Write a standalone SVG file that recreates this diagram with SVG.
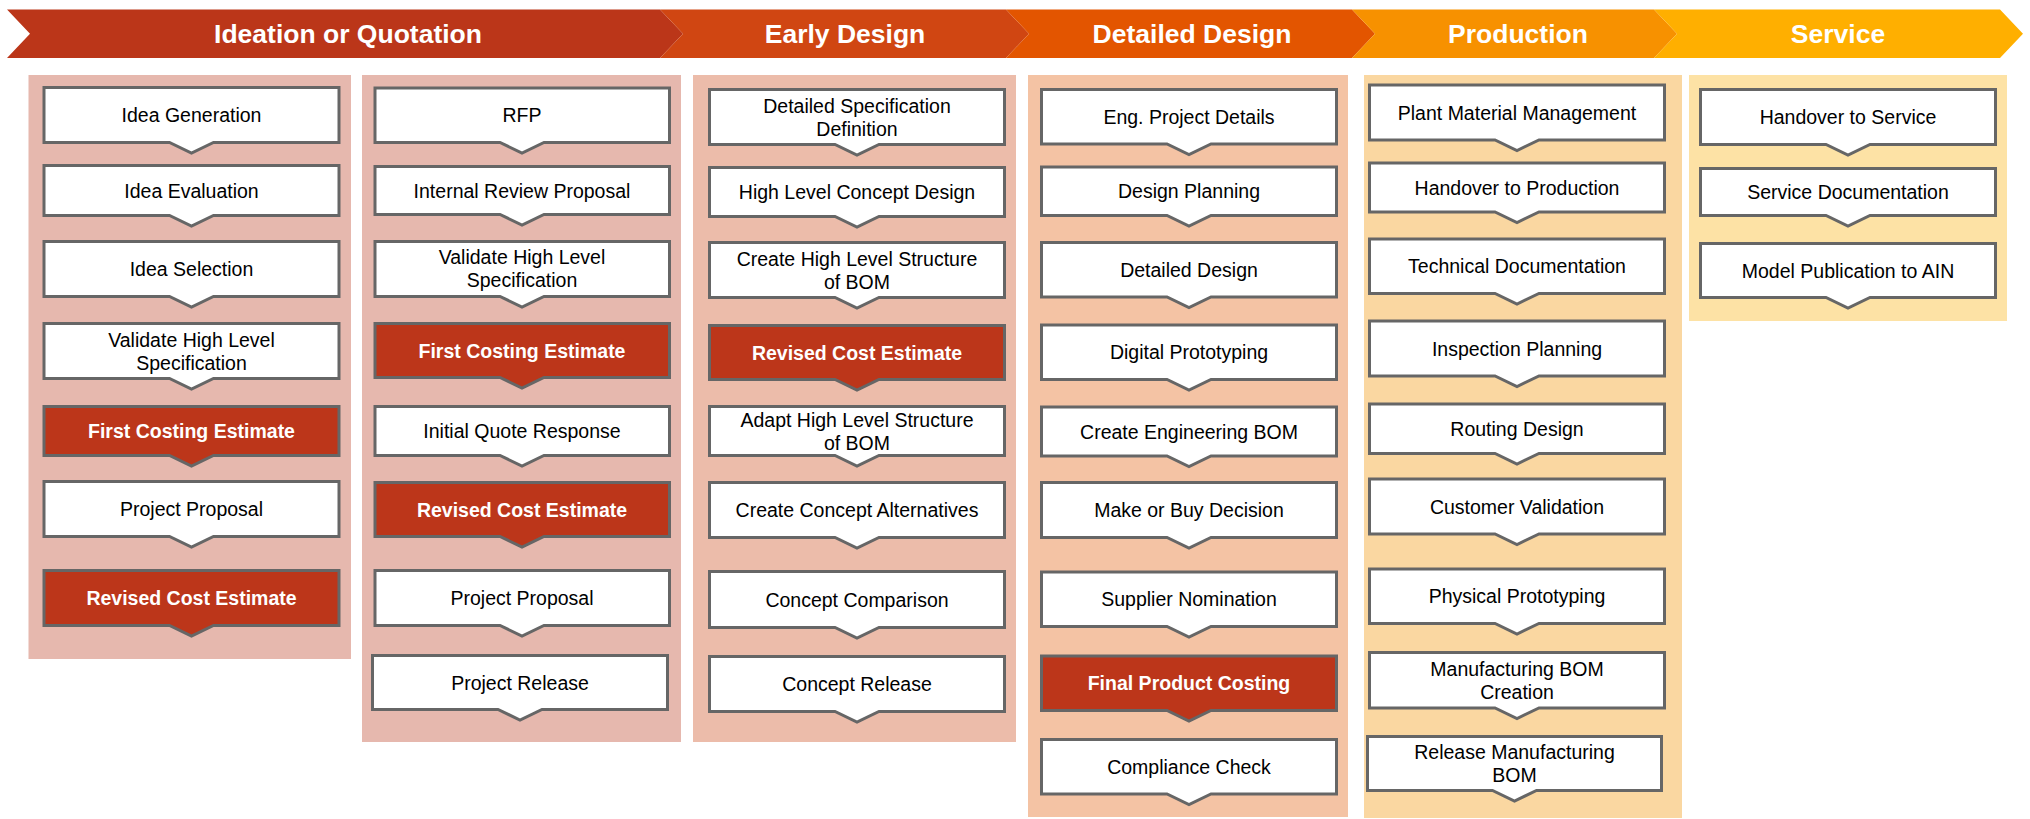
<svg xmlns="http://www.w3.org/2000/svg" width="2030" height="819" viewBox="0 0 2030 819">
<style>
.hdr{font-family:"Liberation Sans",Arial,sans-serif;font-size:26.5px;font-weight:bold;fill:#fff;text-anchor:middle}
.box{fill:#fff;stroke:#666;stroke-width:3;stroke-linejoin:miter}
.red{fill:#BC361A;stroke:#666;stroke-width:3}
.t{font-family:"Liberation Sans",Arial,sans-serif;font-size:19.5px;fill:#000;text-anchor:middle}
.tw{font-family:"Liberation Sans",Arial,sans-serif;font-size:19.5px;font-weight:bold;fill:#fff;text-anchor:middle}
</style>
<rect width="2030" height="819" fill="#fff"/>
<g id="ribbon">
<polygon points="7,9.5 660,9.5 683,33.75 660,58 7,58 30,33.75" fill="#BB3619"/>
<polygon points="660,9.5 1006,9.5 1029,33.75 1006,58 660,58 683,33.75" fill="#D04612"/>
<polygon points="1006,9.5 1352,9.5 1375,33.75 1352,58 1006,58 1029,33.75" fill="#E35500"/>
<polygon points="1352,9.5 1654,9.5 1677,33.75 1654,58 1352,58 1375,33.75" fill="#F79100"/>
<polygon points="1654,9.5 2000,9.5 2023,33.75 2000,58 1654,58 1677,33.75" fill="#FFAF00"/>
<text class="hdr" x="348" y="42.5">Ideation or Quotation</text>
<text class="hdr" x="845" y="42.5">Early Design</text>
<text class="hdr" x="1192" y="42.5">Detailed Design</text>
<text class="hdr" x="1518" y="42.5">Production</text>
<text class="hdr" x="1838" y="42.5">Service</text>
</g>
<g id="panels">
<rect x="28.5" y="75" width="322.5" height="584" fill="#E6B8AE"/>
<rect x="362" y="75" width="319" height="667" fill="#E6B8AE"/>
<rect x="693" y="75" width="323" height="667" fill="#ECBCAA"/>
<rect x="1028" y="75" width="320" height="742" fill="#F4C3A4"/>
<rect x="1364" y="75" width="318" height="743" fill="#FAD7A1"/>
<rect x="1689" y="75" width="318" height="246" fill="#FDE2A5"/>
</g>
<g id="connectors"></g>
<!-- Column 1 -->
<g id="c1n1"><path class="box" d="M44,87.5H339V142.5H213.5L191.5,153L169.5,142.5H44Z"/><text class="t" x="191.5" y="122">Idea Generation</text></g>
<g id="c1n2"><path class="box" d="M44,165.5H339V215.5H213.5L191.5,226L169.5,215.5H44Z"/><text class="t" x="191.5" y="197.5">Idea Evaluation</text></g>
<g id="c1n3"><path class="box" d="M44,241.5H339V296.5H213.5L191.5,307L169.5,296.5H44Z"/><text class="t" x="191.5" y="276">Idea Selection</text></g>
<g id="c1n4"><path class="box" d="M44,323.5H339V378.5H213.5L191.5,389L169.5,378.5H44Z"/><text class="t" x="191.5" y="346.5">Validate High Level</text><text class="t" x="191.5" y="369.5">Specification</text></g>
<g id="c1n5"><path class="red" d="M44,406.5H339V455.5H213.5L191.5,466L169.5,455.5H44Z"/><text class="tw" x="191.5" y="438">First Costing Estimate</text></g>
<g id="c1n6"><path class="box" d="M44,481.5H339V536.5H213.5L191.5,547L169.5,536.5H44Z"/><text class="t" x="191.5" y="516">Project Proposal</text></g>
<g id="c1n7"><path class="red" d="M44,570.5H339V625.5H213.5L191.5,636L169.5,625.5H44Z"/><text class="tw" x="191.5" y="605">Revised Cost Estimate</text></g>
<!-- Column 2 -->
<g id="c2n1"><path class="box" d="M375,88H669.5V142.5H544L522,153L500,142.5H375Z"/><text class="t" x="522" y="122">RFP</text></g>
<g id="c2n2"><path class="box" d="M375,166.5H669.5V214.5H544L522,225L500,214.5H375Z"/><text class="t" x="522" y="197.5">Internal Review Proposal</text></g>
<g id="c2n3"><path class="box" d="M375,241.5H669.5V296.5H544L522,307L500,296.5H375Z"/><text class="t" x="522" y="264">Validate High Level</text><text class="t" x="522" y="287">Specification</text></g>
<g id="c2n4"><path class="red" d="M375,323.5H669.5V377.5H544L522,388L500,377.5H375Z"/><text class="tw" x="522" y="357.5">First Costing Estimate</text></g>
<g id="c2n5"><path class="box" d="M375,406.5H669.5V455.5H544L522,466L500,455.5H375Z"/><text class="t" x="522" y="438">Initial Quote Response</text></g>
<g id="c2n6"><path class="red" d="M375,482.5H669.5V536.5H544L522,547L500,536.5H375Z"/><text class="tw" x="522" y="516.5">Revised Cost Estimate</text></g>
<g id="c2n7"><path class="box" d="M375,570.5H669.5V625.5H544L522,636L500,625.5H375Z"/><text class="t" x="522" y="605">Project Proposal</text></g>
<g id="c2n8"><path class="box" d="M372.5,655.5H667.5V709.5H542L520,720L498,709.5H372.5Z"/><text class="t" x="520" y="689.5">Project Release</text></g>
<!-- Column 3 -->
<g id="c3n1"><path class="box" d="M709.5,89.5H1004.5V144.5H879L857,155L835,144.5H709.5Z"/><text class="t" x="857" y="112.5">Detailed Specification</text><text class="t" x="857" y="135.5">Definition</text></g>
<g id="c3n2"><path class="box" d="M709.5,167.5H1004.5V216.5H879L857,227L835,216.5H709.5Z"/><text class="t" x="857" y="199">High Level Concept Design</text></g>
<g id="c3n3"><path class="box" d="M709.5,242.5H1004.5V297.5H879L857,308L835,297.5H709.5Z"/><text class="t" x="857" y="265.5">Create High Level Structure</text><text class="t" x="857" y="288.5">of BOM</text></g>
<g id="c3n4"><path class="red" d="M709.5,325.5H1004.5V379.5H879L857,390L835,379.5H709.5Z"/><text class="tw" x="857" y="359.5">Revised Cost Estimate</text></g>
<g id="c3n5"><path class="box" d="M709.5,406.5H1004.5V455.5H879L857,466L835,455.5H709.5Z"/><text class="t" x="857" y="426.5">Adapt High Level Structure</text><text class="t" x="857" y="449.5">of BOM</text></g>
<g id="c3n6"><path class="box" d="M709.5,482.5H1004.5V537.5H879L857,548L835,537.5H709.5Z"/><text class="t" x="857" y="517">Create Concept Alternatives</text></g>
<g id="c3n7"><path class="box" d="M709.5,571.5H1004.5V627.5H879L857,638L835,627.5H709.5Z"/><text class="t" x="857" y="606.5">Concept Comparison</text></g>
<g id="c3n8"><path class="box" d="M709.5,656.5H1004.5V711.5H879L857,722L835,711.5H709.5Z"/><text class="t" x="857" y="691">Concept Release</text></g>
<!-- Column 4 -->
<g id="c4n1"><path class="box" d="M1041.5,89.5H1336.5V144H1211L1189,154.5L1167,144H1041.5Z"/><text class="t" x="1189" y="124">Eng. Project Details</text></g>
<g id="c4n2"><path class="box" d="M1041.5,167H1336.5V215.5H1211L1189,226L1167,215.5H1041.5Z"/><text class="t" x="1189" y="198">Design Planning</text></g>
<g id="c4n3"><path class="box" d="M1041.5,242.5H1336.5V297H1211L1189,307.5L1167,297H1041.5Z"/><text class="t" x="1189" y="277">Detailed Design</text></g>
<g id="c4n4"><path class="box" d="M1041.5,325H1336.5V379.5H1211L1189,390L1167,379.5H1041.5Z"/><text class="t" x="1189" y="359">Digital Prototyping</text></g>
<g id="c4n5"><path class="box" d="M1041.5,407H1336.5V456H1211L1189,466.5L1167,456H1041.5Z"/><text class="t" x="1189" y="438.5">Create Engineering BOM</text></g>
<g id="c4n6"><path class="box" d="M1041.5,482.5H1336.5V537.5H1211L1189,548L1167,537.5H1041.5Z"/><text class="t" x="1189" y="517">Make or Buy Decision</text></g>
<g id="c4n7"><path class="box" d="M1041.5,572H1336.5V626.5H1211L1189,637L1167,626.5H1041.5Z"/><text class="t" x="1189" y="606">Supplier Nomination</text></g>
<g id="c4n8"><path class="red" d="M1041.5,656H1336.5V710.5H1211L1189,721L1167,710.5H1041.5Z"/><text class="tw" x="1189" y="690">Final Product Costing</text></g>
<g id="c4n9"><path class="box" d="M1041.5,739.5H1336.5V794H1211L1189,804.5L1167,794H1041.5Z"/><text class="t" x="1189" y="774">Compliance Check</text></g>
<!-- Column 5 -->
<g id="c5n1"><path class="box" d="M1369.5,85H1664.5V140H1539L1517,150.5L1495,140H1369.5Z"/><text class="t" x="1517" y="119.5">Plant Material Management</text></g>
<g id="c5n2"><path class="box" d="M1369.5,163H1664.5V212H1539L1517,222.5L1495,212H1369.5Z"/><text class="t" x="1517" y="194.5">Handover to Production</text></g>
<g id="c5n3"><path class="box" d="M1369.5,239H1664.5V293.5H1539L1517,304L1495,293.5H1369.5Z"/><text class="t" x="1517" y="273">Technical Documentation</text></g>
<g id="c5n4"><path class="box" d="M1369.5,321H1664.5V376H1539L1517,386.5L1495,376H1369.5Z"/><text class="t" x="1517" y="355.5">Inspection Planning</text></g>
<g id="c5n5"><path class="box" d="M1369.5,404H1664.5V453.5H1539L1517,464L1495,453.5H1369.5Z"/><text class="t" x="1517" y="436">Routing Design</text></g>
<g id="c5n6"><path class="box" d="M1369.5,479H1664.5V534H1539L1517,544.5L1495,534H1369.5Z"/><text class="t" x="1517" y="513.5">Customer Validation</text></g>
<g id="c5n7"><path class="box" d="M1369.5,569H1664.5V623.5H1539L1517,634L1495,623.5H1369.5Z"/><text class="t" x="1517" y="603">Physical Prototyping</text></g>
<g id="c5n8"><path class="box" d="M1369.5,652.5H1664.5V708H1539L1517,718.5L1495,708H1369.5Z"/><text class="t" x="1517" y="675.5">Manufacturing BOM</text><text class="t" x="1517" y="698.5">Creation</text></g>
<g id="c5n9"><path class="box" d="M1367.5,736.5H1661.5V790.5H1536.5L1514.5,801L1492.5,790.5H1367.5Z"/><text class="t" x="1514.5" y="759">Release Manufacturing</text><text class="t" x="1514.5" y="782">BOM</text></g>
<!-- Column 6 -->
<g id="c6n1"><path class="box" d="M1700.5,89.5H1995.5V144.5H1870L1848,155L1826,144.5H1700.5Z"/><text class="t" x="1848" y="124">Handover to Service</text></g>
<g id="c6n2"><path class="box" d="M1700.5,168.5H1995.5V215.5H1870L1848,226L1826,215.5H1700.5Z"/><text class="t" x="1848" y="199">Service Documentation</text></g>
<g id="c6n3"><path class="box" d="M1700.5,243.5H1995.5V297.5H1870L1848,308L1826,297.5H1700.5Z"/><text class="t" x="1848" y="277.5">Model Publication to AIN</text></g>
</svg>
